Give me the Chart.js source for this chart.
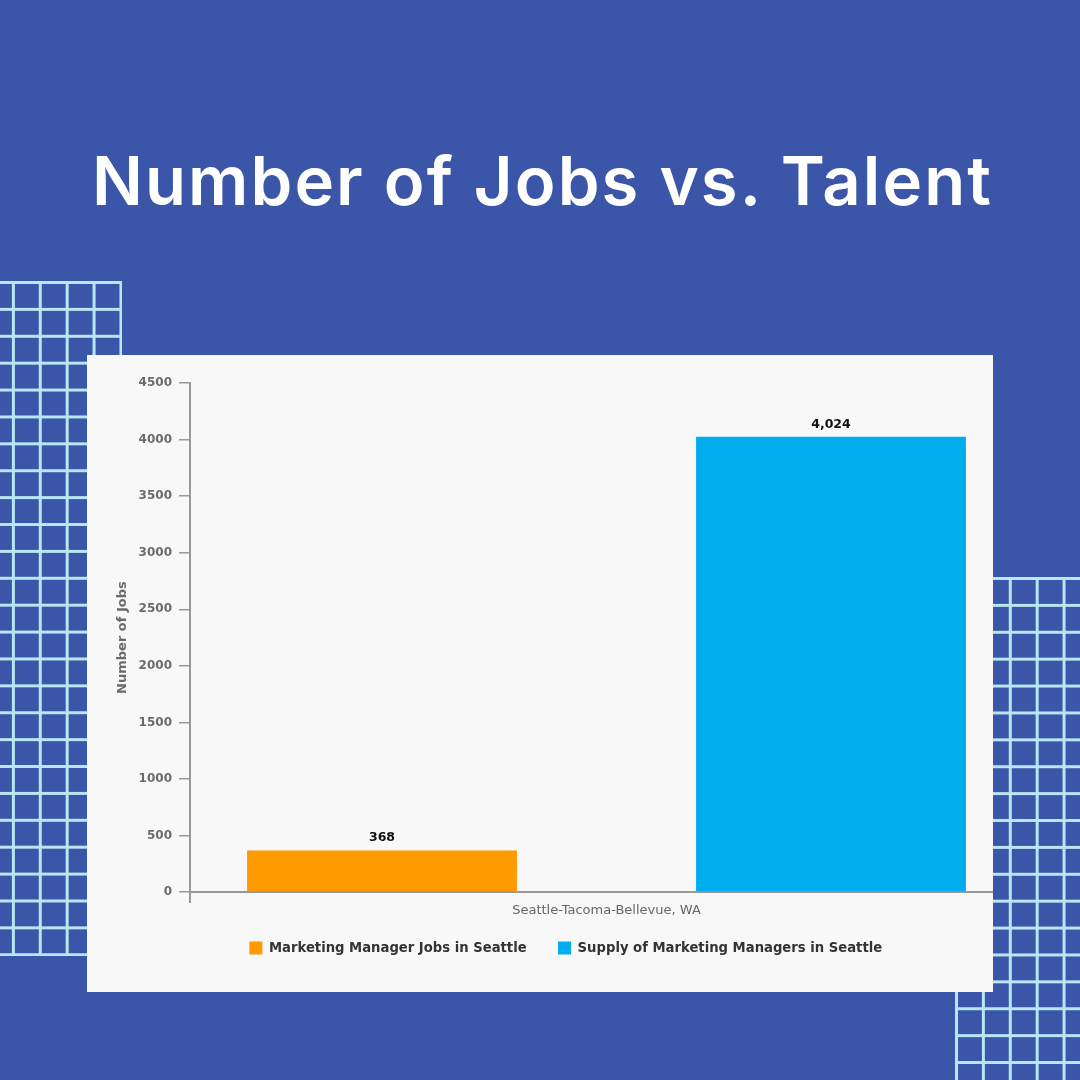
<!DOCTYPE html>
<html>
<head>
<meta charset="utf-8">
<style>
html,body{margin:0;padding:0;width:1080px;height:1080px;overflow:hidden;background:#3b56a8}
h1{position:absolute;left:0;top:136px;width:1085px;margin:0;text-align:center;color:#fff;font:600 67px/90px Inter,sans-serif;letter-spacing:2.1px;white-space:nowrap}
.grid{position:absolute;background-image:linear-gradient(to right,#b8e6f5 2.5px,transparent 2.5px),linear-gradient(to bottom,#b8e6f5 2.5px,transparent 2.5px);background-size:26.9px 26.9px}
#g1{left:-15.25px;top:281.25px;width:137px;height:675px}
#g2{left:954.75px;top:576.5px;width:140px;height:520px}
#card{position:absolute;left:87px;top:355px;width:906px;height:637px;background:#f8f8f8;overflow:hidden}
canvas{position:absolute;left:0;top:0}
</style>
</head>
<body>
<div class="grid" id="g1"></div>
<div class="grid" id="g2"></div>
<h1>Number of Jobs vs. Talent</h1>
<div id="card"><div style="position:absolute;left:0;top:0;width:936px;height:637px"><canvas id="c" width="936" height="637"></canvas></div></div>
<script src="https://cdn.jsdelivr.net/npm/chart.js@4"></script>
<script>
const categories = ["Seattle-Tacoma-Bellevue, WA"];
const seriesNames = ["Marketing Manager Jobs in Seattle", "Supply of Marketing Managers in Seattle"];
const jobsValues = [368];
const supplyValues = [4024];
const seriesColors = ["#ff9900", "#00adef"];
const axisTitle = "Number of Jobs";
const yMax = 4500;
const yStep = 500;

const FONT = "'DejaVu Sans', sans-serif";
const valueLabels = {
  id: "valueLabels",
  afterLayout(chart) {
    // let the x tick label run past the tight scale box instead of being clipped
    chart.scales.x.bottom += 14;
  },
  afterDatasetsDraw(chart) {
    const ctx = chart.ctx;
    ctx.save();
    ctx.font = "bold 12.5px " + FONT;
    ctx.fillStyle = "#111";
    ctx.textAlign = "center";
    ctx.textBaseline = "middle";
    chart.data.datasets.forEach((ds, i) => {
      chart.getDatasetMeta(i).data.forEach((bar, j) => {
        ctx.fillText(ds.data[j].toLocaleString("en-US"), bar.x, bar.y - 12.5);
      });
    });
    ctx.restore();
  }
};

new Chart(document.getElementById("c"), {
  type: "bar",
  data: {
    labels: categories,
    datasets: [
      { label: seriesNames[0], data: jobsValues, backgroundColor: seriesColors[0] },
      { label: seriesNames[1], data: supplyValues, backgroundColor: seriesColors[1] }
    ]
  },
  plugins: [valueLabels],
  options: {
    responsive: false,
    animation: false,
    devicePixelRatio: 1,
    categoryPercentage: 1.078,
    barPercentage: 0.601,
    layout: { padding: { left: 21.5, top: 28, right: 0, bottom: 27.3 } },
    plugins: {
      title: { display: false },
      tooltip: { enabled: false },
      legend: {
        position: "bottom",
        labels: { boxWidth: 13, boxHeight: 13, padding: 31.4, color: "#333", font: { family: FONT, size: 13.2, weight: "bold" } }
      }
    },
    scales: {
      x: {
        afterFit(s) { s.height = 18; },
        border: { color: "#999", width: 2 },
        grid: { offset: true, drawOnChartArea: false, drawTicks: true, tickLength: 11, color: "#999", lineWidth: 2 },
        ticks: { padding: 0, color: "#666", maxRotation: 0, font: { family: FONT, size: 13 } }
      },
      y: {
        min: 0, max: yMax,
        afterFit(s) { s.width = 81.5; },
        border: { color: "#999", width: 2 },
        grid: { drawOnChartArea: false, drawTicks: true, tickLength: 11, color: "#999", lineWidth: 1.5 },
        ticks: { stepSize: yStep, padding: 7, color: "#6b6b6b", format: { useGrouping: false }, font: { family: FONT, size: 12, weight: "bold" } },
        title: { display: true, text: axisTitle, color: "#6b6b6b", padding: 6, font: { family: FONT, size: 13, weight: "bold" } }
      }
    }
  }
});
</script>
</body>
</html>
